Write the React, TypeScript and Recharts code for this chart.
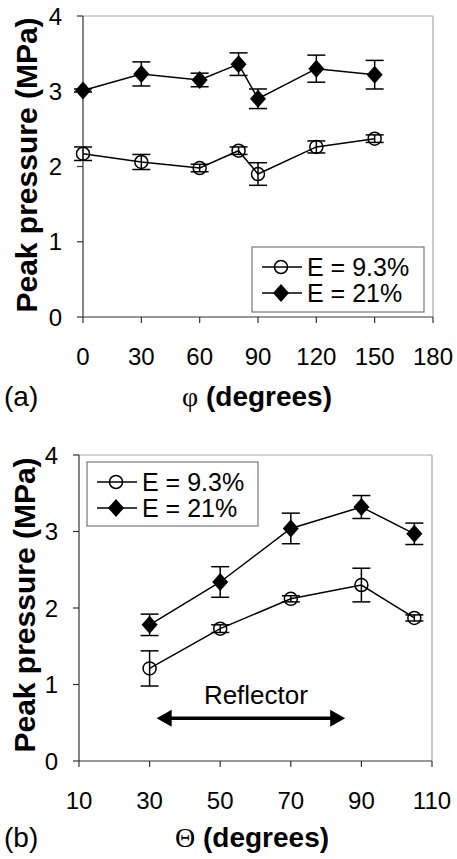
import React from 'react';
import { ComposedChart, Line, XAxis, YAxis, ErrorBar, ReferenceLine, Customized } from 'recharts';

const FONT = '"Liberation Sans", Arial, Helvetica, sans-serif';
const SERIF = '"Liberation Serif", "DejaVu Serif", serif';

// ---- Panel (a): phi ----
const phiDegrees = [0, 30, 60, 80, 90, 120, 150];
const phiLowE = [2.17, 2.06, 1.98, 2.21, 1.9, 2.26, 2.37];
const phiLowErr = [0.09, 0.1, 0.05, 0.05, 0.15, 0.08, 0.05];
const phiHighE = [3.01, 3.23, 3.15, 3.36, 2.9, 3.3, 3.22];
const phiHighErr = [0.02, 0.16, 0.09, 0.15, 0.13, 0.18, 0.19];
const phiTicks = [0, 30, 60, 90, 120, 150, 180];

// ---- Panel (b): theta ----
const thetaDegrees = [30, 50, 70, 90, 105];
const thetaLowE = [1.21, 1.73, 2.12, 2.3, 1.87];
const thetaLowErr = [0.23, 0.05, 0.04, 0.22, 0.04];
const thetaHighE = [1.78, 2.34, 3.04, 3.32, 2.97];
const thetaHighErr = [0.14, 0.2, 0.2, 0.15, 0.14];
const thetaTicks = [10, 30, 50, 70, 90, 110];

const pressureTicks = [0, 1, 2, 3, 4];
const seriesNames = ['E = 9.3%', 'E = 21%'];
const yTitle = 'Peak pressure (MPa)';
const reflectorLabel = 'Reflector';
const reflectorSpan = [32, 85.4];
const reflectorLevel = 0.56;

const toRows = (xs: number[], ys: number[], es: number[]) =>
  xs.map((x, i) => ({ x, y: ys[i], err: es[i] }));

const OpenCircle = ({ cx, cy }: any) =>
  cx == null ? null : <circle cx={cx} cy={cy} r={6.5} fill="none" stroke="#000" strokeWidth={1.5} />;
const Diamond = ({ cx, cy }: any) =>
  cx == null ? null : (
    <polygon points={`${cx},${cy - 9} ${cx + 8},${cy} ${cx},${cy + 9} ${cx - 8},${cy}`} fill="#000" />
  );

const LegendBox = ({ x, y, w, h, rows, fontSize }: any) => (
  <g>
    <rect x={x} y={y} width={w} height={h} fill="#fff" stroke="#777" strokeWidth={1.2} />
    {rows.map((r: any, i: number) => {
      const cy = y + r.dy;
      return (
        <g key={i}>
          <line x1={x + 10} y1={cy} x2={x + 50} y2={cy} stroke="#000" strokeWidth={1.5} />
          {i === 0 ? <OpenCircle cx={x + 29} cy={cy} /> : <Diamond cx={x + 29} cy={cy} />}
          <text x={x + 55} y={cy + fontSize * 0.36} fontFamily={FONT} fontSize={fontSize} fill="#000">
            {r.label}
          </text>
        </g>
      );
    })}
  </g>
);

const ReflectorArrow = (p: any) => {
  const { x1, y1, x2 } = p;
  if (x1 == null) return null;
  const h = 15;
  const w = 8.5;
  return (
    <g>
      <line x1={x1 + h - 2} y1={y1} x2={x2 - h + 2} y2={y1} stroke="#000" strokeWidth={3.5} />
      <polygon points={`${x1},${y1} ${x1 + h},${y1 - w} ${x1 + h},${y1 + w}`} fill="#000" />
      <polygon points={`${x2},${y1} ${x2 - h},${y1 - w} ${x2 - h},${y1 + w}`} fill="#000" />
      <text x={(x1 + x2) / 2 + 5} y={y1 - 14} textAnchor="middle" fontFamily={FONT} fontSize={26} fill="#000">
        {reflectorLabel}
      </text>
    </g>
  );
};

type PanelProps = {
  height: number;
  top: number;
  right: number;
  yAxisWidth: number;
  xAxisHeight: number;
  xDomain: [number, number];
  xTicks: number[];
  low: any[];
  high: any[];
  symbol: string;
  panelLabel: string;
  xTitleX: number;
  xTitleY: number;
  yTitleX: number;
  yTitleY: number;
  legend: { x: number; y: number; w: number; h: number; dy: number[]; fontSize: number };
  reflector?: boolean;
};

const Panel = (p: PanelProps) => {
  const overlay = () => (
    <g>
      <text
        x={p.yTitleX}
        y={p.yTitleY}
        transform={`rotate(-90, ${p.yTitleX}, ${p.yTitleY})`}
        textAnchor="middle"
        dominantBaseline="central"
        fontFamily={FONT}
        fontWeight="bold"
        fontSize={30}
        fill="#000"
      >
        {yTitle}
      </text>
      <text x={p.xTitleX} y={p.xTitleY} textAnchor="middle" fontSize={28} fill="#000">
        <tspan fontFamily={SERIF}>{p.symbol}</tspan>
        <tspan fontFamily={FONT} fontWeight="bold">{' (degrees)'}</tspan>
      </text>
      <text x={4} y={p.xTitleY} fontFamily={FONT} fontSize={28} fill="#000">
        {p.panelLabel}
      </text>
      <LegendBox
        x={p.legend.x}
        y={p.legend.y}
        w={p.legend.w}
        h={p.legend.h}
        fontSize={p.legend.fontSize}
        rows={seriesNames.map((label, i) => ({ label, dy: p.legend.dy[i] }))}
      />
    </g>
  );
  return (
    <ComposedChart
      width={457}
      height={p.height}
      margin={{ top: p.top, right: p.right, left: 0, bottom: 0 }}
    >
      <XAxis
        type="number"
        dataKey="x"
        domain={p.xDomain}
        ticks={p.xTicks}
        interval={0}
        height={p.xAxisHeight}
        tickSize={6}
        tickMargin={25}
        axisLine={{ stroke: '#333', strokeWidth: 1.2 }}
        tickLine={{ stroke: '#333', strokeWidth: 1.2 }}
        tick={{ fontSize: 24, fill: '#000', fontFamily: FONT }}
      />
      <YAxis
        type="number"
        domain={[0, 4]}
        ticks={pressureTicks}
        interval={0}
        width={p.yAxisWidth}
        tickSize={6}
        tickMargin={15}
        axisLine={{ stroke: '#333', strokeWidth: 1.2 }}
        tickLine={{ stroke: '#333', strokeWidth: 1.2 }}
        tick={{ fontSize: 24, fill: '#000', fontFamily: FONT }}
      />
      <ReferenceLine y={4} stroke="#aaa" strokeWidth={1.2} />
      <ReferenceLine x={p.xDomain[1]} stroke="#aaa" strokeWidth={1.2} />
      {p.reflector && (
        <ReferenceLine
          segment={[
            { x: reflectorSpan[0], y: reflectorLevel },
            { x: reflectorSpan[1], y: reflectorLevel },
          ]}
          shape={ReflectorArrow}
        />
      )}
      <Line
        data={p.low}
        dataKey="y"
        name={seriesNames[0]}
        stroke="#000"
        strokeWidth={1.5}
        isAnimationActive={false}
        dot={(d: any) => <OpenCircle key={`l${d.index}`} cx={d.cx} cy={d.cy} />}
        activeDot={false}
      >
        <ErrorBar dataKey="err" width={9} stroke="#000" strokeWidth={1.5} direction="y" />
      </Line>
      <Line
        data={p.high}
        dataKey="y"
        name={seriesNames[1]}
        stroke="#000"
        strokeWidth={1.5}
        isAnimationActive={false}
        dot={(d: any) => <Diamond key={`h${d.index}`} cx={d.cx} cy={d.cy} />}
        activeDot={false}
      >
        <ErrorBar dataKey="err" width={9} stroke="#000" strokeWidth={1.5} direction="y" />
      </Line>
      <Customized component={overlay} />
    </ComposedChart>
  );
};

export default function App() {
  return (
    <div style={{ position: 'absolute', left: 0, top: 0, width: 457, height: 859, background: '#fff' }}>
      <Panel
        height={420}
        top={16}
        right={24}
        yAxisWidth={83}
        xAxisHeight={103}
        xDomain={[0, 180]}
        xTicks={phiTicks}
        low={toRows(phiDegrees, phiLowE, phiLowErr)}
        high={toRows(phiDegrees, phiHighE, phiHighErr)}
        symbol={'\u03C6'}
        panelLabel="(a)"
        xTitleX={257}
        xTitleY={406}
        yTitleX={26}
        yTitleY={165}
        legend={{ x: 252, y: 247, w: 172, h: 65, dy: [20, 46], fontSize: 25 }}
      />
      <Panel
        height={439}
        top={35}
        right={25}
        yAxisWidth={79}
        xAxisHeight={98}
        xDomain={[10, 110]}
        xTicks={thetaTicks}
        low={toRows(thetaDegrees, thetaLowE, thetaLowErr)}
        high={toRows(thetaDegrees, thetaHighE, thetaHighErr)}
        symbol={'\u0398'}
        panelLabel="(b)"
        xTitleX={252}
        xTitleY={427}
        yTitleX={24}
        yTitleY={185}
        legend={{ x: 87, y: 42, w: 171, h: 64, dy: [20, 46], fontSize: 25 }}
        reflector
      />
    </div>
  );
}
